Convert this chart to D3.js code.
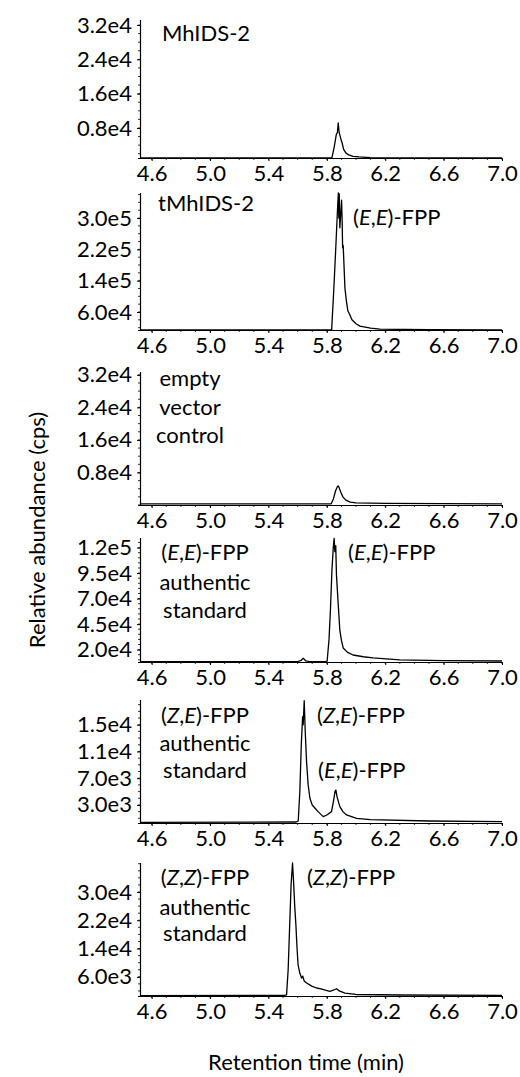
<!DOCTYPE html>
<html>
<head>
<meta charset="utf-8">
<script src="https://cdn.jsdelivr.net/npm/d3@7"></script>
<style>
  body { margin: 0; background: #fff; }
  svg { display: block; }
  text { font-family: Lato, "Open Sans", sans-serif; fill: #000; }
</style>
</head>
<body>
<div id="plot"></div>
<script>
// x axis (retention time, min)
var xDomain = [4.52, 7.0];
var xTicks = [4.6, 5.0, 5.4, 5.8, 6.2, 6.6, 7.0];

// traces: [time, cps]
var mhids2 = [[4.52,1000],[5.80,1000],[5.835,1100],[5.850,3500],[5.865,6500],[5.872,6900],[5.878,9200],
  [5.884,7000],[5.892,6000],[5.898,5200],[5.905,4500],[5.915,3000],[5.93,2200],[5.95,1700],[5.98,1400],
  [6.02,1250],[6.1,1100],[6.5,1050],[7.0,1000]];
var tmhids2 = [[4.52,14000],[5.80,14000],[5.833,15000],[5.848,120000],[5.862,230000],[5.874,330000],
  [5.879,364000],[5.882,300000],[5.885,362000],[5.889,275000],[5.895,310000],[5.901,346000],[5.905,290000],
  [5.908,224000],[5.912,230000],[5.924,121000],[5.935,85000],[5.944,63000],[5.955,55000],[5.972,40000],
  [6.0,30000],[6.027,24000],[6.1,19000],[6.164,16000],[6.5,15000],[7.0,14500]];
var emptyVector = [[4.52,300],[5.83,300],[5.845,1500],[5.86,3500],[5.872,4500],[5.878,4700],[5.884,4300],
  [5.895,3200],[5.91,2000],[5.93,1200],[5.96,700],[6.0,500],[6.2,400],[7.0,300]];
var eeStandard = [[4.52,8200],[5.60,8300],[5.625,9500],[5.638,11500],[5.655,9000],[5.68,8300],[5.79,8300],
  [5.802,8600],[5.815,30000],[5.825,60000],[5.835,98000],[5.844,120000],[5.850,129000],[5.855,116000],
  [5.861,122000],[5.866,93000],[5.876,69000],[5.889,39000],[5.90,29000],[5.912,21600],[5.94,17500],
  [5.979,14700],[6.05,13000],[6.116,11800],[6.3,10000],[6.6,9200],[7.0,8800]];
var zeStandard = [[4.52,400],[5.59,450],[5.604,600],[5.615,5000],[5.625,12000],[5.634,16200],[5.638,15000],
  [5.645,18600],[5.652,14000],[5.661,9500],[5.672,6000],[5.684,4000],[5.70,3000],[5.718,2550],[5.74,2000],
  [5.775,1250],[5.80,1500],[5.832,2000],[5.845,3500],[5.856,5000],[5.862,5240],[5.87,4200],[5.889,2740],
  [5.91,2000],[5.935,1500],[6.004,1000],[6.1,800],[6.5,600],[7.0,500]];
var zzStandard = [[4.52,700],[5.51,750],[5.524,900],[5.535,8000],[5.545,20000],[5.555,32000],[5.565,38200],
  [5.572,33000],[5.58,26000],[5.588,20700],[5.596,14000],[5.603,9400],[5.615,7000],[5.627,5650],[5.635,6200],
  [5.645,4800],[5.661,4240],[5.68,3800],[5.70,3300],[5.73,2830],[5.76,2600],[5.79,2200],[5.82,1900],
  [5.845,2200],[5.867,2630],[5.885,2000],[5.924,1400],[6.0,1000],[6.3,850],[7.0,750]];

// y ticks per panel
var yTicks1 = [8000, 16000, 24000, 32000];
var yLabels1 = ["0.8e4", "1.6e4", "2.4e4", "3.2e4"];
var yTicks2 = [60000, 140000, 220000, 300000];
var yLabels2 = ["6.0e4", "1.4e5", "2.2e5", "3.0e5"];
var yTicks4 = [20000, 45000, 70000, 95000, 120000];
var yLabels4 = ["2.0e4", "4.5e4", "7.0e4", "9.5e4", "1.2e5"];
var yTicks5 = [3000, 7000, 11000, 15000];
var yLabels5 = ["3.0e3", "7.0e3", "1.1e4", "1.5e4"];
var yTicks6 = [6000, 14000, 22000, 30000];
var yLabels6 = ["6.0e3", "1.4e4", "2.2e4", "3.0e4"];

var width = 520, height = 1077;
var left = 140, right = 502;

var panels = [
  { data: mhids2, domain: [1000, 33170], ticks: yTicks1, labels: yLabels1, minor: 2000, top: 20, base: 158,
    notes: [{x: 162, y: 33, a: "start", t: [["MhIDS-2"]]}] },
  { data: tmhids2, domain: [14000, 364000], ticks: yTicks2, labels: yLabels2, minor: 20000, top: 193, base: 330,
    notes: [{x: 158, y: 203, a: "start", t: [["tMhIDS-2"]]},
            {x: 353, y: 217, a: "start", t: [["("], ["E", 1], [","], ["E", 1], [")-FPP"]]}] },
  { data: emptyVector, domain: [0, 32700], ticks: yTicks1, labels: yLabels1, minor: 2000, top: 372, base: 505,
    notes: [{x: 190, y: 378, a: "middle", t: [["empty"]]},
            {x: 190, y: 407, a: "middle", t: [["vector"]]},
            {x: 190, y: 435, a: "middle", t: [["control"]]}] },
  { data: eeStandard, domain: [7840, 129400], ticks: yTicks4, labels: yLabels4, minor: 5000, top: 538, base: 662,
    notes: [{x: 205, y: 552, a: "middle", t: [["("], ["E", 1], [","], ["E", 1], [")-FPP"]]},
            {x: 205, y: 582, a: "middle", t: [["authentic"]]},
            {x: 205, y: 610, a: "middle", t: [["standard"]]},
            {x: 348, y: 552, a: "start", t: [["("], ["E", 1], [","], ["E", 1], [")-FPP"]]}] },
  { data: zeStandard, domain: [300, 18700], ticks: yTicks5, labels: yLabels5, minor: 1000, top: 700, base: 823,
    notes: [{x: 205, y: 715, a: "middle", t: [["("], ["Z", 1], [","], ["E", 1], [")-FPP"]]},
            {x: 205, y: 743, a: "middle", t: [["authentic"]]},
            {x: 205, y: 770, a: "middle", t: [["standard"]]},
            {x: 317, y: 715, a: "start", t: [["("], ["Z", 1], [","], ["E", 1], [")-FPP"]]},
            {x: 318, y: 770, a: "start", t: [["("], ["E", 1], [","], ["E", 1], [")-FPP"]]}] },
  { data: zzStandard, domain: [570, 38200], ticks: yTicks6, labels: yLabels6, minor: 2000, top: 863, base: 996,
    notes: [{x: 205, y: 877, a: "middle", t: [["("], ["Z", 1], [","], ["Z", 1], [")-FPP"]]},
            {x: 205, y: 907, a: "middle", t: [["authentic"]]},
            {x: 205, y: 933, a: "middle", t: [["standard"]]},
            {x: 307, y: 877, a: "start", t: [["("], ["Z", 1], [","], ["Z", 1], [")-FPP"]]}] }
];

var svg = d3.select("#plot").append("svg")
  .attr("width", width)
  .attr("height", height);

var x = d3.scaleLinear().domain(xDomain).range([left, right]);
var fs = 22;

panels.forEach(function(p, i) {
  var y = d3.scaleLinear().domain(p.domain).range([p.base, p.top]);
  var g = svg.append("g");

  // clip for the trace
  svg.append("clipPath").attr("id", "clip" + i)
    .append("rect").attr("x", left).attr("y", p.top - 2).attr("width", right - left).attr("height", p.base - p.top + 2);

  // x axis
  var xAxis = d3.axisBottom(x).tickValues(xTicks).tickFormat(d3.format(".1f")).tickSize(3).tickPadding(4);
  var gx = g.append("g").attr("transform", "translate(0," + p.base + ")").call(xAxis);
  gx.select(".domain").attr("d", "M" + (left - 2) + ",0.5H" + right).attr("stroke-width", 1.2);
  gx.selectAll("text").attr("font-size", fs).attr("font-family", "Lato, sans-serif").attr("dy", "0.72em");
  g.append("g").selectAll("line")
    .data(d3.range(4.6, 7.001, 0.1))
    .enter().append("line")
    .attr("x1", function(d) { return x(d); }).attr("x2", function(d) { return x(d); })
    .attr("y1", p.base).attr("y2", p.base + 2)
    .attr("stroke", "#000").attr("stroke-width", 0.8);

  // y axis
  var yAxis = d3.axisLeft(y).tickValues(p.ticks)
    .tickFormat(function(d, k) { return p.labels[k]; }).tickSize(3).tickPadding(5);
  var gy = g.append("g").attr("transform", "translate(" + left + ",0)").call(yAxis);
  gy.select(".domain").attr("d", "M0.5," + p.top + "V" + p.base).attr("stroke-width", 1.2);
  gy.selectAll("text").attr("font-size", fs).attr("font-family", "Lato, sans-serif");
  g.append("g").selectAll("line")
    .data(d3.range(Math.ceil(p.domain[0] / p.minor) * p.minor, p.domain[1], p.minor))
    .enter().append("line")
    .attr("x1", left - 2).attr("x2", left)
    .attr("y1", function(d) { return y(d); }).attr("y2", function(d) { return y(d); })
    .attr("stroke", "#000").attr("stroke-width", 0.8);

  // chromatogram trace
  var line = d3.line()
    .x(function(d) { return x(d[0]); })
    .y(function(d) { return y(d[1]); });
  g.append("path")
    .datum(p.data)
    .attr("clip-path", "url(#clip" + i + ")")
    .attr("fill", "none")
    .attr("stroke", "#000")
    .attr("stroke-width", 1.3)
    .attr("stroke-linejoin", "round")
    .attr("d", line);

  // labels inside the panel
  p.notes.forEach(function(n) {
    var t = g.append("text")
      .attr("x", n.x).attr("y", n.y).attr("dy", "0.35em")
      .attr("text-anchor", n.a)
      .attr("font-size", fs);
    n.t.forEach(function(part) {
      t.append("tspan").attr("font-style", part[1] ? "italic" : "normal").text(part[0]);
    });
  });
});

svg.append("text")
  .attr("transform", "translate(37,530) rotate(-90)")
  .attr("text-anchor", "middle")
  .attr("dy", "0.35em")
  .attr("font-size", fs)
  .text("Relative abundance (cps)");

svg.append("text")
  .attr("x", 306).attr("y", 1062)
  .attr("text-anchor", "middle")
  .attr("dy", "0.35em")
  .attr("font-size", fs)
  .text("Retention time (min)");
</script>
</body>
</html>
